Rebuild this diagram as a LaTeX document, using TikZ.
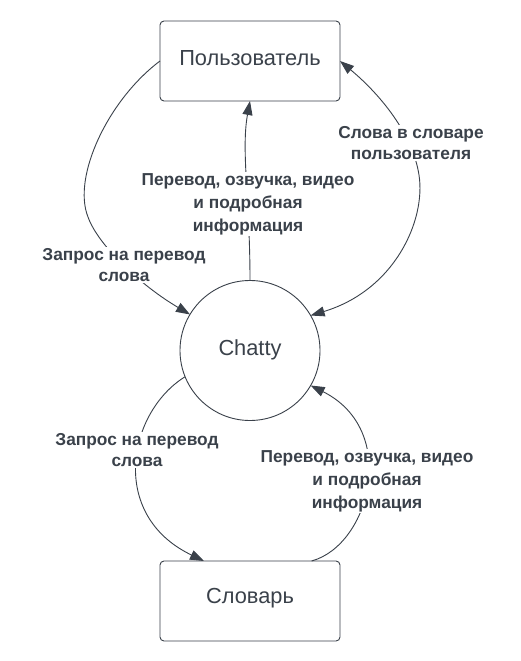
\documentclass[tikz,border=0pt]{standalone}
\usepackage{fontspec}
\setmainfont{Liberation Sans}
\usetikzlibrary{arrows.meta}
\definecolor{ink}{HTML}{3A414A}
\tikzset{
  x=1pt, y=-1pt,
  boxnode/.style={draw=ink, line width=0.9pt, rounded corners=4pt, minimum width=180pt, minimum height=80pt, outer sep=0pt, inner sep=0pt},
  circnode/.style={draw=ink, line width=0.9pt, circle, minimum size=140pt, outer sep=0pt, inner sep=0pt},
  nodetext/.style={font=\fontsize{21.8}{26}\selectfont, text=ink},
  lbl/.style={fill=white, inner sep=1pt, align=center, text=ink, font=\fontsize{17.3}{23}\selectfont\bfseries},
  lbltwo/.style={lbl, font=\fontsize{17.3}{21}\selectfont\bfseries},
  conn/.style={draw=ink, line width=0.9pt},
  tip/.style={-{Triangle[length=14pt,width=10pt]}},
  tips/.style={{Triangle[length=14pt,width=10pt]}-{Triangle[length=14pt,width=10pt]}},
}
\begin{document}
\begin{tikzpicture}
\useasboundingbox[fill=white] (0,0) rectangle (520,661);
\node[boxnode] (user) at (250,61) {};
\node[nodetext] at (250,58) {Пользователь};
\node[circnode] (chatty) at (250,350.5) {};
\node[nodetext] at (250,350) {Chatty};
\node[boxnode] (dict) at (250,601) {};
\node[nodetext] at (250,598) {Словарь};

% user -> chatty (left)
\draw[conn, tip] (user.west) .. controls (108,100) and (72,177) .. (88,217)
   .. controls (98,245) and (140,285) .. (chatty.149);
\node[lbltwo] (l1) at (124,265) {Запрос на перевод\\слова};

% chatty -> user (middle)
\draw[conn, tip] (chatty.north) .. controls (250,200) and (241,150) .. (user.south);
\node[lbl] (l2) at (248,204) {Перевод, озвучка, видео\\и подробная\\информация};

% chatty <-> user (right)
\draw[conn, tips] (chatty.30) .. controls (395,290) and (426,220) .. (419,175)
   .. controls (412,130) and (375,90) .. (user.east);
\node[lbltwo] (l3) at (411,143) {Слова в словаре\\пользователя};

% chatty -> dict (left)
\draw[conn, tip] (chatty.202) .. controls (128,412) and (108,515) .. (dict.139.6);
\node[lbltwo] (l4) at (137,450) {Запрос на перевод\\слова};

% dict -> chatty (right)
\draw[conn, tip] (dict.33.7) .. controls (370,545) and (400,430) .. (chatty.330.6);
\node[lbl] (l5) at (367,481) {Перевод, озвучка, видео\\и подробная\\информация};
\end{tikzpicture}
\end{document}
